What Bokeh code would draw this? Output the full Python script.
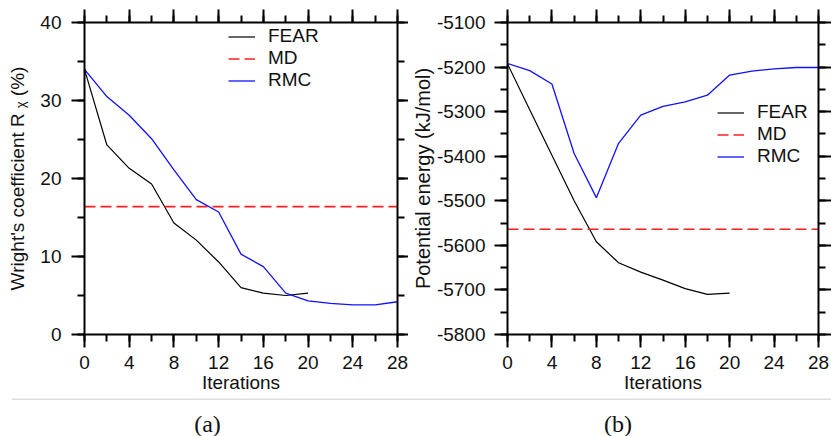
from bokeh.plotting import figure
from bokeh.layouts import row, column
from bokeh.models import (Range1d, LinearAxis, SingleIntervalTicker, Label, Span,
                          Legend, CustomJSTickFormatter, PrintfTickFormatter)
from bokeh.embed import file_html
from bokeh.resources import INLINE

# ---------------- data ----------------
iters_fear = [0, 2, 4, 6, 8, 10, 12, 14, 16, 18, 20]
iters_rmc = [0, 2, 4, 6, 8, 10, 12, 14, 16, 18, 20, 22, 24, 26, 28]

rx_fear = [34.0, 24.3, 21.3, 19.3, 14.3, 12.1, 9.3, 6.0, 5.3, 5.0, 5.3]
rx_rmc = [34.0, 30.5, 28.1, 25.1, 21.1, 17.3, 15.7, 10.3, 8.7, 5.3, 4.3, 4.0, 3.8, 3.8, 4.2]
rx_md = 16.4

en_fear = [-5193, -5296, -5398, -5500, -5592, -5639, -5660, -5678, -5697, -5710, -5707]
en_rmc = [-5192, -5208, -5238, -5394, -5493, -5371, -5308, -5288, -5278, -5263, -5218,
          -5209, -5204, -5201, -5201]
en_md = -5564

series_names = ["FEAR", "MD", "RMC"]
captions = ["(a)", "(b)"]
x_title = "Iterations"
y_title_a = "Wright's coefficient R ᵪ (%)"
y_title_b = "Potential energy (kJ/mol)"

FONT = "Liberation Sans"
FS = "19px"
TXT = "#111111"
TOP_H = 398


def style_axis(ax, show_labels, tick_out=13):
    ax.axis_line_width = 2
    ax.axis_line_color = "black"
    ax.major_tick_out = tick_out
    ax.major_tick_in = 0
    ax.minor_tick_out = 7
    ax.minor_tick_in = 0
    ax.major_tick_line_width = 2
    ax.minor_tick_line_width = 2
    ax.major_tick_line_color = "black"
    ax.minor_tick_line_color = "black"
    ax.major_label_text_font = FONT
    ax.major_label_text_color = TXT
    ax.axis_label_text_font = FONT
    ax.axis_label_text_font_style = "normal"
    ax.axis_label_text_font_size = FS
    ax.axis_label_text_color = TXT
    if show_labels:
        ax.major_label_text_font_size = FS
        ax.major_label_standoff = 8
    else:
        ax.formatter = CustomJSTickFormatter(code="return ''")
        ax.major_label_text_font_size = "1px"
        ax.major_label_standoff = 0


def make_panel(width, border_left, border_right, right_tick, yrange, yint, fear, rmc,
               md, legend_xy):
    xt = SingleIntervalTicker(interval=4, num_minor_ticks=2)
    yt = SingleIntervalTicker(interval=yint, num_minor_ticks=2)
    p = figure(width=width, height=TOP_H, output_backend="svg", toolbar_location=None,
               x_range=Range1d(iters_rmc[0], iters_rmc[-1]), y_range=Range1d(*yrange),
               min_border_left=border_left, min_border_right=border_right,
               min_border_top=22, min_border_bottom=TOP_H - 334)
    bottom = p.below[0]
    left = p.left[0]
    bottom.ticker = xt
    left.ticker = yt
    bottom.axis_label = x_title
    p.grid.visible = False
    p.outline_line_color = None
    top = LinearAxis(ticker=xt)
    right = LinearAxis(ticker=yt)
    p.add_layout(top, "above")
    p.add_layout(right, "right")
    style_axis(bottom, True)
    style_axis(left, True)
    left.major_label_standoff = 10
    bottom.major_label_standoff = 8
    bottom.axis_label_standoff = 0
    style_axis(top, False)
    style_axis(right, False, right_tick)

    r1 = p.line(iters_fear, fear, line_color="black", line_width=1.2)
    r2 = p.line([iters_rmc[0], iters_rmc[-1]], [md, md], line_color="#ff2020",
                line_width=1.6, line_dash="11 5")
    r3 = p.line(iters_rmc, rmc, line_color="#1010ff", line_width=1.3)

    leg = Legend(items=[(series_names[0], [r1]), (series_names[1], [r2]),
                        (series_names[2], [r3])],
                 location=legend_xy, padding=0, margin=0, spacing=0,
                 glyph_width=27, glyph_height=21, label_height=21,
                 label_standoff=13, border_line_color=None,
                 background_fill_alpha=0, label_text_font=FONT,
                 label_text_font_size=FS, label_text_color=TXT)
    p.add_layout(leg)
    return p, left


pa, left_a = make_panel(408, 84, 11, 11, (0, 40), 10, rx_fear, rx_rmc, rx_md, (144, 243))
pb, left_b = make_panel(423, 99, 13, 13, (-5800, -5100), 100, en_fear, en_rmc, en_md,
                        (210, 167))

left_a.axis_label = y_title_a
left_a.axis_label_standoff = 9

left_b.major_label_standoff = 9
left_b.formatter = PrintfTickFormatter(format="%d")
left_b.axis_label = y_title_b
left_b.axis_label_text_font_size = "20px"
left_b.axis_label_standoff = 0

# caption strip with separator line
CAP_H = 436 - TOP_H
pc = figure(width=831, height=CAP_H, output_backend="svg", toolbar_location=None,
            x_axis_type=None, y_axis_type=None,
            x_range=Range1d(0, 820), y_range=Range1d(0, CAP_H),
            min_border_left=11, min_border_right=0, min_border_top=0, min_border_bottom=0)
pc.outline_line_color = None
pc.add_layout(Span(location=CAP_H - 0.5, dimension="width", line_color="#bbbbbb",
                   line_width=1))
pc.add_layout(Label(x=196, y=13, x_units="screen", y_units="screen", text=captions[0],
                    text_font="Liberation Serif", text_font_size="24px", text_color=TXT,
                    text_align="center", text_baseline="alphabetic"))
pc.add_layout(Label(x=606.5, y=13, x_units="screen", y_units="screen", text=captions[1],
                    text_font="Liberation Serif", text_font_size="24px", text_color=TXT,
                    text_align="center", text_baseline="alphabetic"))

layout = column(row(pa, pb, spacing=0), pc, spacing=0)
open("out.html", "w").write(file_html(layout, INLINE))
